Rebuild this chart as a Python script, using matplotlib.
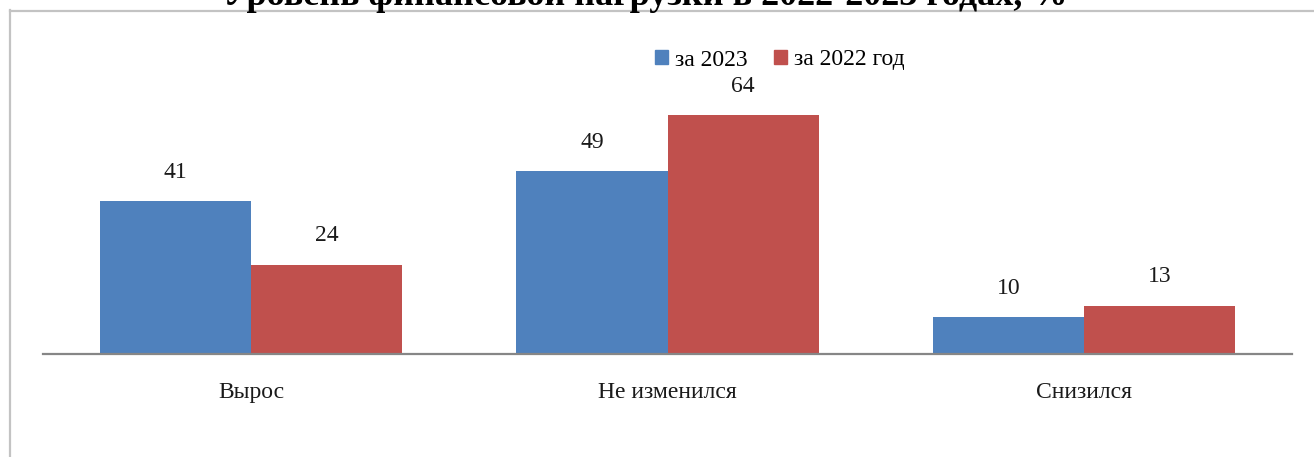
import matplotlib.pyplot as plt
import numpy as np
from matplotlib.patches import Rectangle
from matplotlib.lines import Line2D

plt.rcParams['font.family'] = ['Liberation Serif', 'DejaVu Serif']

categories = ['Вырос', 'Не изменился', 'Снизился']
series_names = ['за 2023', 'за 2022 год']
values_2023 = [41, 49, 10]
values_2022 = [24, 64, 13]
colors = ['#4f81bd', '#c0504d']
title = 'Уровень финансовой нагрузки в 2022-2023 годах, %'

W, H = 1314, 457
fig = plt.figure(figsize=(W / 100, H / 100), dpi=100)
fig.patch.set_facecolor('white')

# область построения в пикселях
left, right, bottom_px, top_px = 43, 1292, 354, 93
ax = fig.add_axes([left / W, 1 - bottom_px / H, (right - left) / W, (bottom_px - top_px) / H])

x = np.arange(len(categories))
width = 0.363
bars1 = ax.bar(x - width / 2, values_2023, width, color=colors[0], label=series_names[0])
bars2 = ax.bar(x + width / 2, values_2022, width, color=colors[1], label=series_names[1])

for bars in (bars1, bars2):
    for b in bars:
        ax.annotate(f'{int(b.get_height())}', (b.get_x() + b.get_width() / 2, b.get_height()),
                    xytext=(0, 13), textcoords='offset points', ha='center', va='bottom',
                    fontsize=17, color='#1a1a1a')

ax.set_xlim(-0.5, 2.5)
ax.set_ylim(0, 70)
ax.set_yticks([])
ax.set_xticks(x)
ax.set_xticklabels(categories, fontsize=17, color='#1a1a1a')
ax.tick_params(axis='x', length=0, pad=20)
for s in ['top', 'right', 'left']:
    ax.spines[s].set_visible(False)
ax.spines['bottom'].set_color('#868686')
ax.spines['bottom'].set_linewidth(1.6)

# рамка диаграммы
fig.add_artist(Line2D([10 / W, 10 / W], [0, 1 - 10 / H], transform=fig.transFigure,
                      color='#c3c3c3', linewidth=1.6))
fig.add_artist(Line2D([10 / W, 1], [1 - 10.5 / H, 1 - 10.5 / H], transform=fig.transFigure,
                      color='#c3c3c3', linewidth=1.6))

# заголовок (верхняя часть уходит за край)
fig.text(645 / W, 1 - 5 / H, title, ha='center', va='baseline', fontsize=26,
         fontweight='bold', color='black')

leg = fig.legend(handles=[Rectangle((0, 0), 1, 1, color=c) for c in colors], labels=series_names,
                 loc='center', bbox_to_anchor=(780 / W, 1 - 60 / H), ncol=2, frameon=False,
                 fontsize=17, handlelength=0.55, handleheight=0.55, handletextpad=0.3,
                 columnspacing=1.1)

fig.savefig('out.png', dpi=100)
